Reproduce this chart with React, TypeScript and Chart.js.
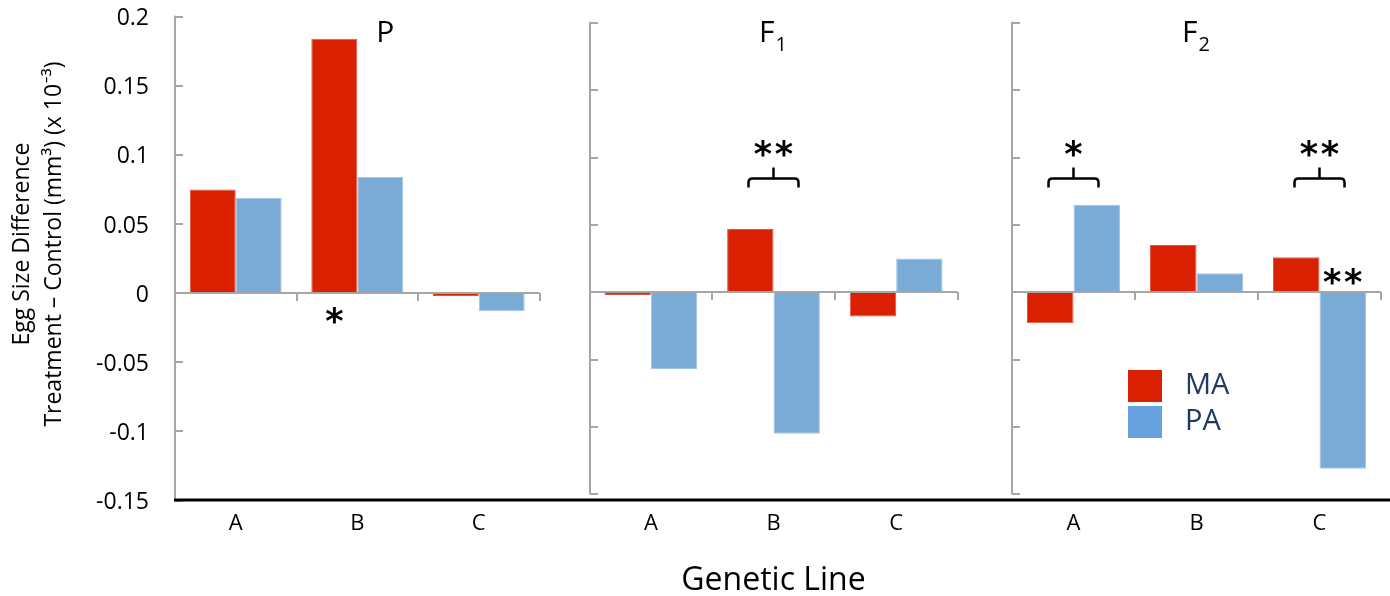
import React, { useEffect, useRef } from 'react';
import { Chart, registerables } from 'chart.js';

Chart.register(...registerables);

// ---------------- data ----------------
const geneticLines = ['A', 'B', 'C'];
const seriesNames = ['MA', 'PA'];
const parentMA = [0.075, 0.184, -0.002];
const parentPA = [0.069, 0.084, -0.013];
const f1MA = [-0.002, 0.047, -0.018];
const f1PA = [-0.057, -0.105, 0.025];
const f2MA = [-0.023, 0.035, 0.026];
const f2PA = [0.065, 0.014, -0.131];
const yMin = -0.15;
const yMax = 0.2;
const yStep = 0.05;
const yTitleLines = ['Egg Size Difference', 'Treatment \u2013 Control (mm\u00B3) (x 10\u207B\u00B3)'];
const xTitle = 'Genetic Line';

// significance annotations (category index, series index or -1 for group centre, value, text)
const parentStars = [{ cat: 1, series: 0, value: -0.0165, text: '*' }];
const f1Stars = [{ cat: 1, series: -1, value: 0.107, text: '**' }];
const f1Braces = [{ cat: 1, value: 0.0845 }];
const f2Stars = [
  { cat: 0, series: -1, value: 0.107, text: '*' },
  { cat: 2, series: -1, value: 0.107, text: '**' },
  { cat: 2, series: 1, value: 0.012, text: '**' },
];
const f2Braces = [
  { cat: 0, value: 0.0845 },
  { cat: 2, value: 0.0845 },
];

// ---------------- styles ----------------
const H = 596;
const FONT = '"Open Sans", Lato, "DejaVu Sans", sans-serif';
const RED = '#D92000';
const RED_EDGE = '#E4553C';
const BLUE = '#7AAAD6';
const BLUE_EDGE = '#A3C4E6';
const LEGEND_COLORS = ['#D92000', '#66A1DE'];
const AXIS_GRAY = '#A6A6A6';
const LEGEND_TEXT = '#1F3864';

type Star = { cat: number; series: number; value: number; text: string };
type Brace = { cat: number; value: number };

type PanelCfg = {
  key: string;
  title: string;
  sub: string;
  ma: number[];
  pa: number[];
  left: number;
  width: number;
  padLeft: number;
  padRight: number;
  top: number;
  bottom: number;
  showY: boolean;
  yAxisWidth: number;
  titleDx: number;
  labelPad: number;
  showXTitle: boolean;
  legend: null | { x: number; y: number };
  stars: Star[];
  braces: Brace[];
  baseFromArea: boolean;
  yTitle: boolean;
};

const panels: PanelCfg[] = [
  {
    key: 'P', title: 'P', sub: '', ma: parentMA, pa: parentPA,
    left: 0, width: 565, padLeft: 0, padRight: 25.5, top: 16.7, bottom: 500.5,
    showY: true, yAxisWidth: 175, titleDx: 28, labelPad: 2, showXTitle: false,
    legend: null, stars: parentStars, braces: [], baseFromArea: true, yTitle: true,
  },
  {
    key: 'F1', title: 'F', sub: '1', ma: f1MA, pa: f1PA,
    left: 565, width: 425, padLeft: 24.5, padRight: 32.5, top: 22.8, bottom: 494.3,
    showY: false, yAxisWidth: 0, titleDx: 0, labelPad: 8, showXTitle: true,
    legend: null, stars: f1Stars, braces: f1Braces, baseFromArea: false, yTitle: false,
  },
  {
    key: 'F2', title: 'F', sub: '2', ma: f2MA, pa: f2PA,
    left: 990, width: 400, padLeft: 22, padRight: 9, top: 22.8, bottom: 494.3,
    showY: false, yAxisWidth: 0, titleDx: 0, labelPad: 8, showXTitle: false,
    legend: { x: 138, y: 370 }, stars: f2Stars, braces: f2Braces, baseFromArea: false, yTitle: false,
  },
];

const BASE_Y = 500;

const panelDecor = {
  id: 'panelDecor',
  afterDatasetsDraw(chart: any, _args: any, o: any) {
    const { ctx, chartArea: ca } = chart;
    const xs = chart.scales.x;
    const ys = chart.scales.y;
    const cfg: PanelCfg = o.cfg;
    ctx.save();

    // gray value axis with inward ticks
    const ax = Math.round(ca.left);
    ctx.strokeStyle = AXIS_GRAY;
    ctx.lineWidth = 2;
    ctx.beginPath();
    ctx.moveTo(ax, ca.top - 1);
    ctx.lineTo(ax, ca.bottom);
    ctx.stroke();
    ys.ticks.forEach((t: any) => {
      const py = Math.round(ys.getPixelForValue(t.value));
      ctx.beginPath();
      ctx.moveTo(ax, py);
      ctx.lineTo(ax + 8, py);
      ctx.stroke();
    });

    // gray zero line with category boundary ticks
    const zy = Math.round(ys.getPixelForValue(0));
    ctx.beginPath();
    ctx.moveTo(ax, zy);
    ctx.lineTo(ca.right, zy);
    ctx.stroke();
    const cw = xs.getPixelForValue(1) - xs.getPixelForValue(0);
    for (let i = 0; i < xs.ticks.length; i++) {
      const bx = Math.round(xs.getPixelForValue(i) + cw / 2);
      ctx.beginPath();
      ctx.moveTo(bx, zy);
      ctx.lineTo(bx, zy + 8);
      ctx.stroke();
    }

    // black baseline across the figure
    ctx.strokeStyle = '#000';
    ctx.lineWidth = 3;
    ctx.beginPath();
    ctx.moveTo(cfg.baseFromArea ? ax - 1 : 0, BASE_Y);
    ctx.lineTo(chart.width, BASE_Y);
    ctx.stroke();

    // panel title
    ctx.fillStyle = '#000';
    ctx.textBaseline = 'alphabetic';
    ctx.textAlign = 'left';
    ctx.font = `30px ${FONT}`;
    const mw = ctx.measureText(cfg.title).width;
    ctx.font = `20px ${FONT}`;
    const sw = cfg.sub ? ctx.measureText(cfg.sub).width + 2 : 0;
    const tx = (ca.left + ca.right) / 2 + cfg.titleDx - (mw + sw) / 2;
    ctx.font = `30px ${FONT}`;
    ctx.fillText(cfg.title, tx, 42);
    if (cfg.sub) {
      ctx.font = `20px ${FONT}`;
      ctx.fillText(cfg.sub, tx + mw + 1, 51);
    }

    // y axis title
    if (cfg.yTitle) {
      ctx.font = `23px ${FONT}`;
      ctx.textAlign = 'center';
      ctx.textBaseline = 'alphabetic';
      const cy = 244;
      const xsLines = [29, 61];
      yTitleLines.forEach((line, i) => {
        ctx.save();
        ctx.translate(xsLines[i], cy);
        ctx.rotate(-Math.PI / 2);
        ctx.fillText(line, 0, 0);
        ctx.restore();
      });
    }

    // braces
    ctx.strokeStyle = '#000';
    ctx.lineWidth = 2.5;
    ctx.lineJoin = 'round';
    cfg.braces.forEach((b) => {
      const cx = xs.getPixelForValue(b.cat);
      const y = ys.getPixelForValue(b.value);
      const half = 25;
      const r = 4;
      ctx.beginPath();
      ctx.moveTo(cx - half, y + 9);
      ctx.lineTo(cx - half, y + r);
      ctx.quadraticCurveTo(cx - half, y, cx - half + r, y);
      ctx.lineTo(cx + half - r, y);
      ctx.quadraticCurveTo(cx + half, y, cx + half, y + r);
      ctx.lineTo(cx + half, y + 9);
      ctx.moveTo(cx, y);
      ctx.lineTo(cx, y - 11);
      ctx.stroke();
    });

    // asterisks
    ctx.fillStyle = '#000';
    ctx.font = `bold 35px "DejaVu Sans"`;
    ctx.textAlign = 'center';
    ctx.textBaseline = 'alphabetic';
    cfg.stars.forEach((s) => {
      const cx = s.series < 0 ? xs.getPixelForValue(s.cat) : chart.getDatasetMeta(s.series).data[s.cat].x;
      const y = ys.getPixelForValue(s.value);
      const chars = s.text.split('');
      const gap = 21;
      chars.forEach((c, i) => {
        const m = ctx.measureText(c);
        const yb = y + (m.actualBoundingBoxAscent - m.actualBoundingBoxDescent) / 2;
        const x = cx + (i - (chars.length - 1) / 2) * gap;
        ctx.fillText(c, x, yb);
      });
    });

    // legend
    if (cfg.legend) {
      const { x, y } = cfg.legend;
      seriesNames.forEach((name, i) => {
        const sy = y + i * 36;
        ctx.fillStyle = LEGEND_COLORS[i];
        ctx.fillRect(x, sy, 34, 32);
        ctx.fillStyle = LEGEND_TEXT;
        ctx.font = `29px ${FONT}`;
        ctx.textAlign = 'left';
        ctx.textBaseline = 'middle';
        ctx.fillText(name, x + 57, sy + 16);
      });
    }

    ctx.restore();
  },
};

function Panel({ cfg }: { cfg: PanelCfg }) {
  const ref = useRef<HTMLCanvasElement | null>(null);
  useEffect(() => {
    if (!ref.current) return;
    const chart = new Chart(ref.current, {
      type: 'bar',
      data: {
        labels: geneticLines,
        datasets: [
          {
            label: seriesNames[0], data: cfg.ma, backgroundColor: RED, borderColor: RED_EDGE, borderWidth: 1,
            categoryPercentage: 0.756, barPercentage: 1,
          },
          {
            label: seriesNames[1], data: cfg.pa, backgroundColor: BLUE, borderColor: BLUE_EDGE, borderWidth: 1,
            categoryPercentage: 0.756, barPercentage: 1,
          },
        ],
      },
      options: {
        responsive: false,
        animation: false,
        devicePixelRatio: 1,
        layout: { padding: { left: cfg.padLeft, right: cfg.padRight, top: cfg.top, bottom: 0 } },
        plugins: {
          legend: { display: false },
          tooltip: { enabled: false },
          title: { display: false },
          panelDecor: { cfg },
        } as any,
        scales: {
          x: {
            grid: { display: false },
            border: { display: false },
            ticks: { color: '#000', font: { family: FONT, size: 22 }, padding: cfg.labelPad, maxRotation: 0 },
            title: cfg.showXTitle
              ? { display: true, text: xTitle, color: '#000', font: { family: FONT, size: 32 }, padding: { top: 0, bottom: -4 } }
              : { display: false },
            afterFit: (s: any) => { s.height = H - cfg.bottom; },
          },
          y: {
            display: cfg.showY,
            min: yMin,
            max: yMax,
            grid: { display: false, drawTicks: true, tickLength: 26 },
            border: { display: false },
            ticks: {
              stepSize: yStep,
              color: '#000',
              font: { family: FONT, size: 23 },
              padding: 0,
              labelOffset: 2,
              callback: (v: any) => String(Math.round(Number(v) * 100) / 100),
            },
            afterFit: (s: any) => { if (cfg.showY) s.width = cfg.yAxisWidth; },
          },
        },
      } as any,
      plugins: [panelDecor as any],
    });
    return () => chart.destroy();
  }, [cfg]);
  return (
    <canvas
      ref={ref}
      width={cfg.width}
      height={H}
      style={{ position: 'absolute', left: cfg.left, top: 0, width: cfg.width, height: H }}
    />
  );
}

export default function App() {
  return (
    <div style={{ position: 'absolute', left: 0, top: 0, width: 1390, height: H, background: '#fff' }}>
      {panels.map((p) => (
        <Panel key={p.key} cfg={p} />
      ))}
    </div>
  );
}
